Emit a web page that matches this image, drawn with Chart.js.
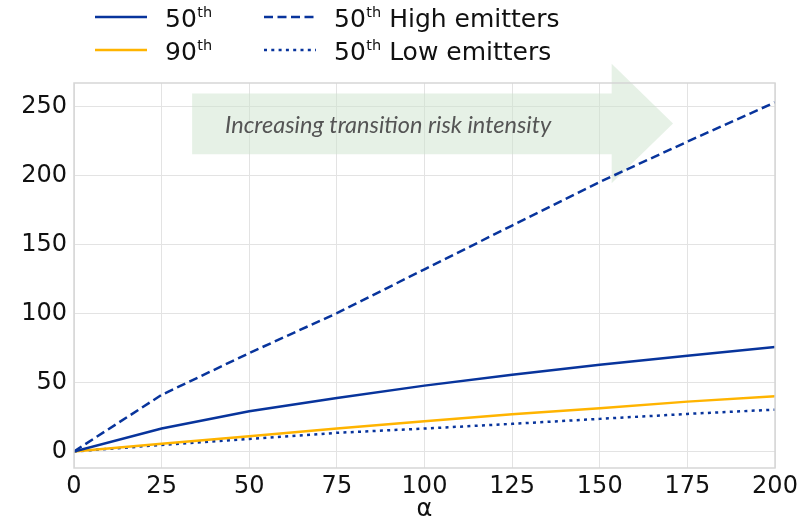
<!DOCTYPE html>
<html lang="en">
<head>
<meta charset="UTF-8">
<title>Transition risk by alpha</title>
<script src="https://cdn.jsdelivr.net/npm/chart.js"></script>
<style>
  body { margin: 0; background: #fff; }
  #wrap { width: 806px; height: 524px; }
</style>
</head>
<body>
<div id="wrap"><canvas id="chart"></canvas></div>
<script>
// values
const alphas = [0, 25, 50, 75, 100, 125, 150, 175, 200];
const p50 = [0, 16.6, 29.1, 38.8, 47.7, 55.6, 62.9, 69.4, 75.6];
const p90 = [0, 5.6, 11, 16.6, 21.9, 27, 31.3, 36.1, 40];
const p50High = [0, 41, 71.3, 100.2, 132, 163.7, 195.3, 224.5, 253];
const p50Low = [0, 4.7, 9, 13.5, 16.6, 20, 23.6, 27.2, 30.3];
const seriesNames = ['50th', '90th', '50th High emitters', '50th Low emitters'];
const xTicks = [0, 25, 50, 75, 100, 125, 150, 175, 200];
const yTicks = [0, 50, 100, 150, 200, 250];
const arrowText = 'Increasing transition risk intensity';

const BLUE = '#08349c';
const YELLOW = '#ffb400';
const FONT = 'DejaVu Sans';

function pts(ys) {
    return alphas.map((a, i) => ({ x: a, y: ys[i] }));
}

// light grey frame round the plot
const framePlugin = {
    id: 'frame',
    afterDatasetsDraw(chart) {
        const { ctx, chartArea: a } = chart;
        ctx.save();
        ctx.strokeStyle = '#d6d6d6';
        ctx.lineWidth = 1.5;
        ctx.strokeRect(a.left, a.top, a.right - a.left, a.bottom - a.top);
        ctx.restore();
    }
};

// green block arrow with label
const arrowPlugin = {
    id: 'arrow',
    beforeDatasetsDraw(chart) {
        const { ctx, scales: { x, y } } = chart;
        const x0 = x.getPixelForValue(33.7), x1 = x.getPixelForValue(153.4), x2 = x.getPixelForValue(170.9);
        const yb0 = y.getPixelForValue(259.4), yb1 = y.getPixelForValue(215.3);
        const yh0 = y.getPixelForValue(281), yh1 = y.getPixelForValue(194.4);
        const ym = y.getPixelForValue(237.7);
        ctx.save();
        ctx.fillStyle = 'rgba(205, 227, 205, 0.5)';
        ctx.beginPath();
        ctx.moveTo(x0, yb0);
        ctx.lineTo(x1, yb0);
        ctx.lineTo(x1, yh0);
        ctx.lineTo(x2, ym);
        ctx.lineTo(x1, yh1);
        ctx.lineTo(x1, yb1);
        ctx.lineTo(x0, yb1);
        ctx.closePath();
        ctx.fill();
        ctx.fillStyle = '#555';
        ctx.font = 'italic 23.5px Lato';
        ctx.textBaseline = 'alphabetic';
        ctx.fillText(arrowText, x0 + 33, ym + 9.5);
        ctx.restore();
    }
};

// two-column legend with superscript "th"
const legendPlugin = {
    id: 'colLegend',
    afterDraw(chart) {
        const ctx = chart.ctx;
        const colX = [95, 264];
        const rowY = [17, 50];
        chart.data.datasets.forEach((ds, i) => {
            const lx = colX[Math.floor(i / 2)];
            const ly = rowY[i % 2];
            ctx.save();
            ctx.strokeStyle = ds.borderColor;
            ctx.lineWidth = ds.borderWidth;
            ctx.setLineDash(ds.borderDash || []);
            ctx.beginPath();
            ctx.moveTo(lx, ly);
            ctx.lineTo(lx + 52, ly);
            ctx.stroke();
            ctx.setLineDash([]);
            const m = ds.label.match(/^(\d+)(th)(.*)$/);
            let tx = lx + 70;
            const base = ly + 9.5;
            ctx.fillStyle = '#111';
            ctx.textBaseline = 'alphabetic';
            ctx.font = '25px ' + FONT;
            ctx.fillText(m[1], tx, base);
            tx += ctx.measureText(m[1]).width + 0.5;
            ctx.font = '14.5px ' + FONT;
            ctx.fillText(m[2], tx, base - 9.3);
            tx += ctx.measureText(m[2]).width;
            ctx.font = '25px ' + FONT;
            ctx.fillText(m[3], tx, base);
            ctx.restore();
        });
    }
};

const ctx = document.getElementById('chart').getContext('2d');
new Chart(ctx, {
    type: 'line',
    data: {
        datasets: [
            { label: seriesNames[0], data: pts(p50), borderColor: BLUE, borderWidth: 2.5 },
            { label: seriesNames[1], data: pts(p90), borderColor: YELLOW, borderWidth: 2.5 },
            { label: seriesNames[2], data: pts(p50High), borderColor: BLUE, borderWidth: 2.5, borderDash: [9, 4.5] },
            { label: seriesNames[3], data: pts(p50Low), borderColor: BLUE, borderWidth: 2.5, borderDash: [3, 4.3] }
        ]
    },
    options: {
        responsive: true,
        maintainAspectRatio: false,
        animation: false,
        events: [],
        layout: { padding: { top: 83, right: 31, left: 0, bottom: 0 } },
        elements: { point: { radius: 0 }, line: { tension: 0, borderCapStyle: 'butt' } },
        plugins: { legend: { display: false }, tooltip: { enabled: false } },
        scales: {
            x: {
                type: 'linear',
                min: 0,
                max: 200,
                afterBuildTicks: s => { s.ticks = xTicks.map(v => ({ value: v })); },
                afterFit: s => { s.height = 56; },
                ticks: { color: '#111', font: { family: FONT, size: 24 }, padding: 4, maxRotation: 0 },
                grid: { color: '#e3e3e3', lineWidth: 1, drawTicks: false },
                border: { display: false },
                title: { display: true, text: 'α', color: '#111', font: { family: FONT, size: 24 }, padding: { top: 0, bottom: 0 } }
            },
            y: {
                min: -12,
                max: 267,
                afterBuildTicks: s => { s.ticks = yTicks.map(v => ({ value: v })); },
                afterFit: s => { s.width = 74; },
                ticks: { color: '#111', font: { family: FONT, size: 24 }, padding: 7 },
                grid: { color: '#e3e3e3', lineWidth: 1, drawTicks: false },
                border: { display: false }
            }
        }
    },
    plugins: [arrowPlugin, framePlugin, legendPlugin]
});
</script>
</body>
</html>
